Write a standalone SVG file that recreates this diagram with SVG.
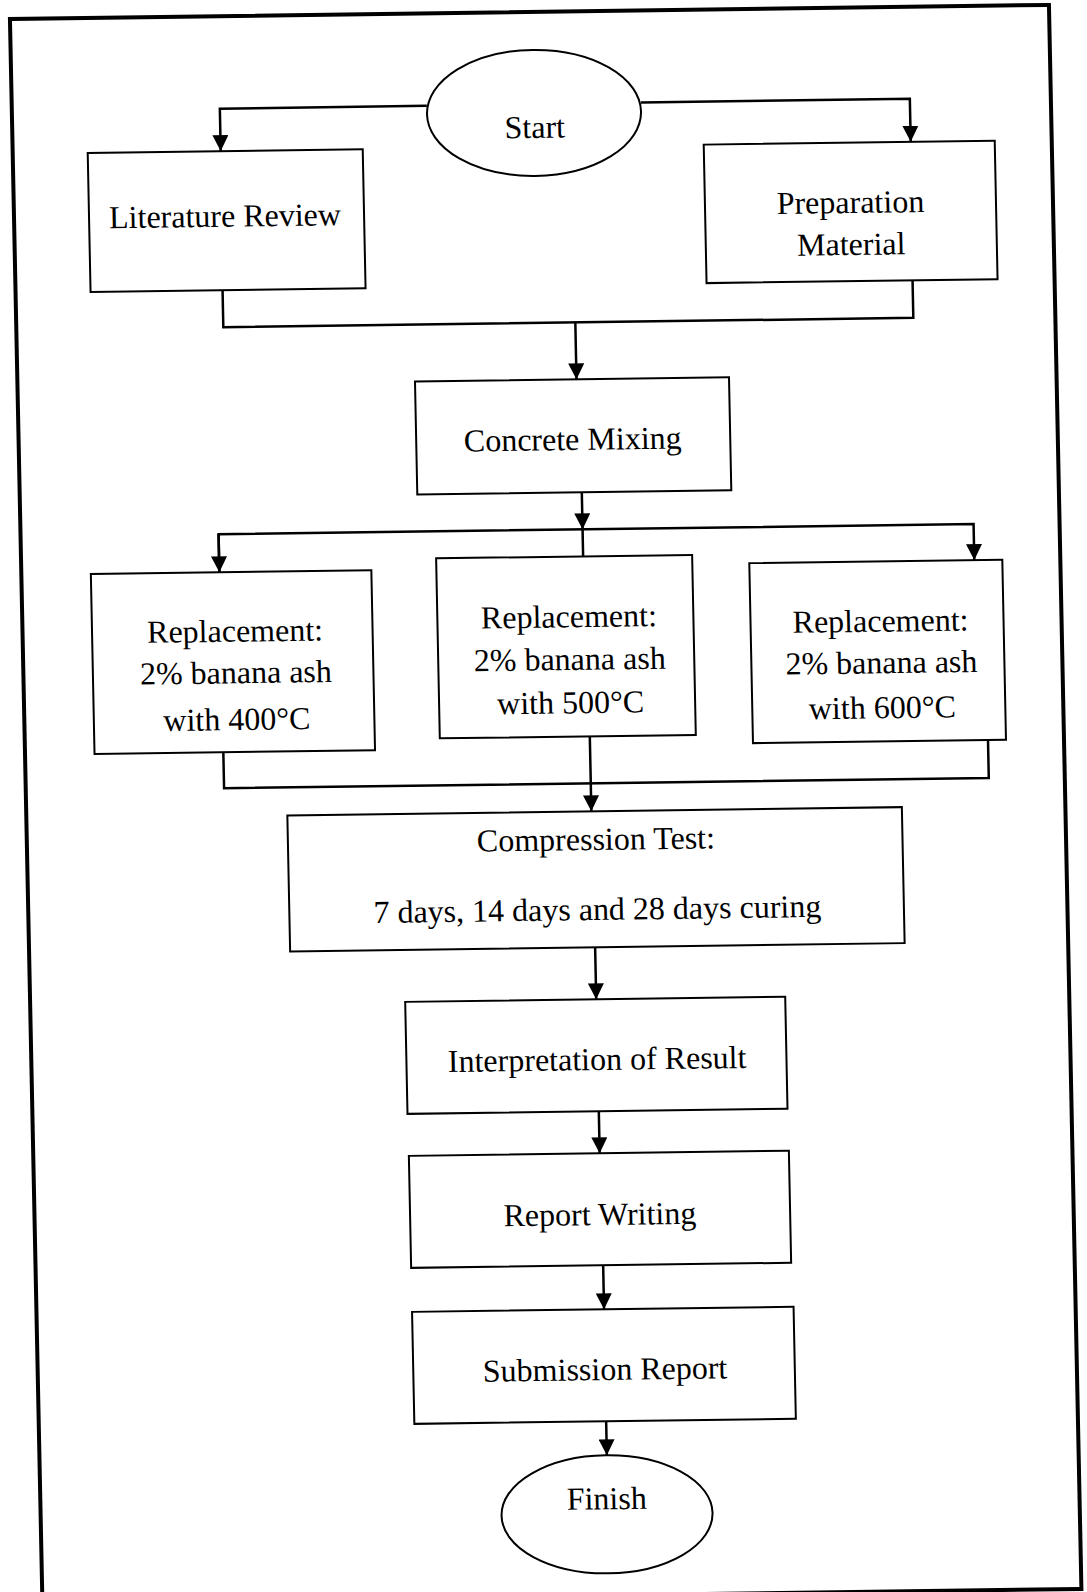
<svg xmlns="http://www.w3.org/2000/svg" width="1087" height="1592" viewBox="0 0 1087 1592">
<style>
.box{fill:#fff;stroke:#000;stroke-width:2}
.frame{fill:none;stroke:#000;stroke-width:4}
.conn{fill:none;stroke:#000;stroke-width:2.5}
text{font-family:"Liberation Serif","Times New Roman",serif;font-size:32px;fill:#000;text-anchor:middle}
</style>
<defs>
<marker id="arr" markerUnits="userSpaceOnUse" markerWidth="16" markerHeight="16" refX="16" refY="8" orient="auto" viewBox="0 0 16 16">
<path d="M0,0 L16,8 L0,16 z" fill="#000"/>
</marker>
</defs>
<rect width="1087" height="1592" fill="#fff"/>
<g transform="matrix(1,-0.0135,0.0205,1,-16.3,7.3)">
<rect id="frame" class="frame" x="26" y="12" width="1039" height="1584"/>
<g id="connectors">
<polyline class="conn" points="441,104.5 234,104.5 234,147" marker-end="url(#arr)"/>
<polyline class="conn" points="655,104 924,104 924,147" marker-end="url(#arr)"/>
<polyline class="conn" points="233,286 233,323 923,323 923,285.5"/>
<polyline class="conn" points="585,323 585,380" marker-end="url(#arr)"/>
<polyline class="conn" points="588,493 588,530" marker-end="url(#arr)"/>
<polyline class="conn" points="588,530 588,557"/>
<polyline class="conn" points="224,568 224,530 979,530 979,566" marker-end="url(#arr)"/>
<polyline class="conn" points="224,530 224,568" marker-end="url(#arr)"/>
<polyline class="conn" points="224.3,748 224.3,784 989,784 989,746"/>
<polyline class="conn" points="591,737 591,812" marker-end="url(#arr)"/>
<polyline class="conn" points="592,948 592,1000" marker-end="url(#arr)"/>
<polyline class="conn" points="592.3,1112 592.3,1154" marker-end="url(#arr)"/>
<polyline class="conn" points="593.5,1266 593.5,1310" marker-end="url(#arr)"/>
<polyline class="conn" points="593.3,1422 593.3,1456" marker-end="url(#arr)"/>
</g>
<g id="start">
<ellipse class="box" cx="548" cy="113" rx="107" ry="63"/>
<text x="548.5" y="138">Start</text>
</g>
<g id="literature">
<rect class="box" x="101" y="147" width="275" height="139"/>
<text x="237" y="222.6">Literature Review</text>
</g>
<g id="preparation">
<rect class="box" x="717" y="147" width="291" height="138.5"/>
<text x="862.5" y="217.3">Preparation</text>
<text x="862.5" y="259.3">Material</text>
</g>
<g id="mixing">
<rect class="box" x="423.5" y="380" width="314" height="113"/>
<text x="580" y="450.5">Concrete Mixing</text>
</g>
<g id="rep400">
<rect class="box" x="95.5" y="568" width="280.5" height="180"/>
<text x="238.5" y="637.6">Replacement:</text>
<text x="238.5" y="679.2">2% banana ash</text>
<text x="238.5" y="726">with 400°C</text>
</g>
<g id="rep500">
<rect class="box" x="441" y="557" width="256" height="180"/>
<text x="572.5" y="627.7">Replacement:</text>
<text x="572.5" y="670.4">2% banana ash</text>
<text x="572.5" y="713.7">with 500°C</text>
</g>
<g id="rep600">
<rect class="box" x="754" y="566" width="253" height="180"/>
<text x="884" y="636.3">Replacement:</text>
<text x="884" y="677.9">2% banana ash</text>
<text x="884" y="722.9">with 600°C</text>
</g>
<g id="compression">
<rect class="box" x="287" y="812" width="614.5" height="136"/>
<text x="595" y="850.7">Compression Test:</text>
<text x="595" y="920.7">7 days, 14 days and 28 days curing</text>
</g>
<g id="interpretation">
<rect class="box" x="401" y="1000" width="380" height="112"/>
<text x="591.7" y="1070.7">Interpretation of Result</text>
</g>
<g id="report">
<rect class="box" x="401.5" y="1154" width="380" height="112"/>
<text x="591.3" y="1225.7">Report Writing</text>
</g>
<g id="submission">
<rect class="box" x="401.5" y="1310" width="381.5" height="112"/>
<text x="593.3" y="1380.7">Submission Report</text>
</g>
<g id="finish">
<ellipse class="box" cx="592.3" cy="1515" rx="105.5" ry="59"/>
<text x="592.3" y="1510">Finish</text>
</g>
</g>
</svg>
